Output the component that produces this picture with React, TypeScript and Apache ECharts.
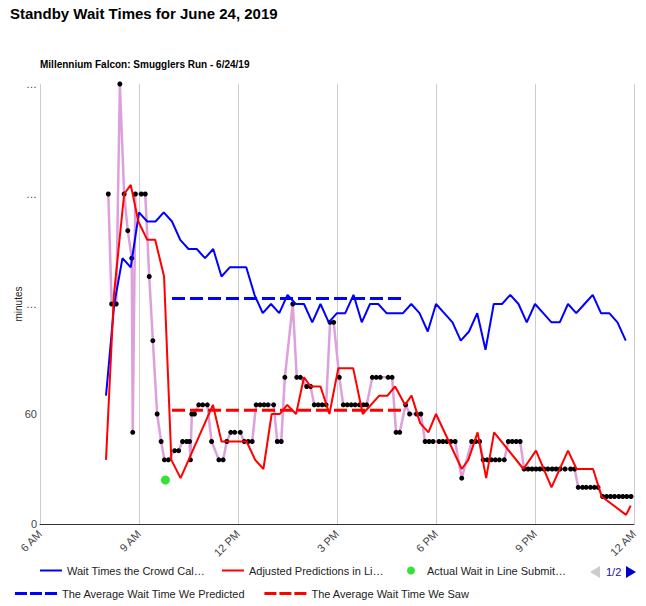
import React, { useEffect, useRef } from "react";
import * as echarts from "echarts";

// ---- Data (hours of day, minutes) ----
const xTickHours = [6, 9, 12, 15, 18, 21, 24];
const xTickLabels = ["6 AM", "9 AM", "12 PM", "3 PM", "6 PM", "9 PM", "12 AM"];

const seriesNames = [
  "Wait Times the Crowd Cal…",
  "Adjusted Predictions in Li…",
  "Actual Wait in Line Submit…",
  "Posted Wait Times",
  "The Average Wait Time We Predicted",
  "The Average Wait Time We Saw",
];
const legendPageText = "1/2";

// Crowd calendar predictions every 15 min from 8:00 to 23:45
const crowdStart = 8;
const crowdStep = 0.25;
const crowdValues = [
  70, 120, 145, 140, 170, 165, 165, 170, 165, 155, 150, 150, 145, 150, 135, 140,
  140, 140, 125, 115, 120, 115, 125, 120, 120, 110, 120, 110, 115, 115, 125, 110,
  120, 120, 115, 115, 115, 120, 115, 105, 120, 115, 110, 100, 105, 115, 95, 120,
  120, 125, 120, 110, 120, 115, 110, 110, 120, 115, 120, 125, 115, 115, 110, 100,
];

// Adjusted predictions
const adjustedTimes = [
  8.0, 8.24, 8.55, 8.75, 8.98, 9.25, 9.49, 9.76, 9.98, 10.26, 11.24, 11.5, 12.26,
  12.52, 12.77, 13.02, 13.27, 13.49, 13.76, 14.0, 14.2, 14.5, 14.77, 15.04, 15.49,
  15.78, 16.28, 16.53, 16.76, 17.06, 17.26, 17.52, 17.77, 18.0, 18.78, 18.98, 19.26,
  19.52, 19.76, 20.65, 21.03, 21.5, 22.0, 22.26, 22.76, 23.02, 23.76, 23.9,
];
const adjustedValues = [
  35, 125, 180, 185, 165, 155, 155, 135, 35, 25, 65, 45, 45,
  35, 30, 60, 60, 65, 60, 80, 75, 75, 60, 85, 85,
  60, 70, 70, 75, 65, 70, 55, 50, 60, 30, 35, 50,
  25, 50, 30, 40, 20, 40, 30, 30, 15, 5, 10,
];

// Actual submitted wait
const actualTimes = [9.8];
const actualValues = [24];

// Posted wait times (dots)
const postedTimes = [
  8.07, 8.17, 8.31, 8.42, 8.55, 8.66, 8.78, 8.81, 8.89, 9.07, 9.19, 9.31, 9.42, 9.55,
  9.67, 9.77, 9.89, 10.08, 10.2, 10.32, 10.44, 10.53, 10.56, 10.6, 10.68, 10.81, 10.93,
  11.07, 11.2, 11.42, 11.55, 11.66, 11.78, 11.9, 12.07, 12.19, 12.31, 12.43, 12.55,
  12.67, 12.79, 12.91, 13.08, 13.19, 13.31, 13.42, 13.66, 13.78, 13.89, 14.08, 14.2,
  14.31, 14.43, 14.55, 14.67, 14.79, 14.9, 15.07, 15.19, 15.31, 15.43, 15.55, 15.68,
  15.8, 15.9, 16.07, 16.19, 16.31, 16.55, 16.67, 16.79, 16.9, 17.08, 17.2, 17.41,
  17.54, 17.67, 17.79, 17.91, 18.09, 18.21, 18.33, 18.45, 18.58, 18.78, 19.08, 19.2,
  19.32, 19.43, 19.55, 19.68, 19.8, 19.92, 20.07, 20.19, 20.31, 20.43, 20.55, 20.67,
  20.79, 20.91, 21.03, 21.15, 21.27, 21.39, 21.52, 21.64, 21.76, 21.91, 22.08, 22.2,
  22.31, 22.44, 22.55, 22.68, 22.8, 22.91, 23.05, 23.17, 23.29, 23.41, 23.54, 23.66,
  23.78, 23.91,
];
const postedValues = [
  180, 120, 120, 240, 180, 160, 145, 50, 180, 180, 180, 135, 100, 60,
  45, 35, 35, 40, 40, 45, 45, 45, 35, 60, 60, 65, 65,
  65, 45, 35, 35, 45, 50, 50, 50, 45, 45, 45, 65,
  65, 65, 65, 65, 45, 45, 80, 120, 80, 80, 75, 75,
  65, 65, 65, 65, 110, 110, 80, 65, 65, 65, 65, 65,
  65, 65, 80, 80, 80, 80, 80, 50, 50, 65, 60, 60,
  60, 45, 45, 45, 45, 45, 45, 45, 45, 25, 45, 45,
  45, 35, 35, 35, 35, 35, 35, 45, 45, 45, 45, 30,
  30, 30, 30, 30, 30, 30, 30, 30, 30, 30, 30, 30,
  20, 20, 20, 20, 20, 20, 15, 15, 15, 15, 15, 15,
  15, 15,
];

// Averages
const averageRange = [10, 17];
const averagePredicted = 123;
const averageSaw = 62;

const FONT = "Arial, 'Liberation Sans', sans-serif";
const SOLID_ICON = "path://M0,0h22v2h-22z";
const DASH_ICON = "path://M0,0h12v3h-12zM15,0h12v3h-12zM30,0h12v3h-12z";
const LEGEND_TEXT = { fontSize: 11, color: "#222", fontFamily: FONT };

export default function App() {
  const ref = useRef<HTMLDivElement>(null);

  useEffect(() => {
    if (!ref.current) return;
    const chart = echarts.init(ref.current, null, { renderer: "svg" });

    const crowdData = crowdValues.map((v, i) => [crowdStart + i * crowdStep, v]);
    const adjustedData = adjustedTimes.map((t, i) => [t, adjustedValues[i]]);
    const actualData = actualTimes.map((t, i) => [t, actualValues[i]]);
    const postedData = postedTimes.map((t, i) => [t, postedValues[i]]);
    const avgPredData = averageRange.map((t) => [t, averagePredicted]);
    const avgSawData = averageRange.map((t) => [t, averageSaw]);

    chart.setOption({
      animation: false,
      textStyle: { fontFamily: FONT },
      title: [
        {
          text: "Standby Wait Times for June 24, 2019",
          left: 10,
          top: 6,
          padding: 0,
          textStyle: { fontSize: 15, fontWeight: "bold", color: "#000", fontFamily: FONT },
        },
        {
          text: "Millennium Falcon: Smugglers Run - 6/24/19",
          left: 40,
          top: 59,
          padding: 0,
          textStyle: { fontSize: 10, fontWeight: "bold", color: "#000", fontFamily: FONT },
        },
      ],
      legend: [
        {
          type: "plain",
          orient: "horizontal",
          left: 40,
          top: 565,
          padding: 0,
          itemWidth: 22,
          itemHeight: 8,
          itemGap: 17,
          data: [
            { name: seriesNames[0], icon: SOLID_ICON },
            { name: seriesNames[1], icon: SOLID_ICON },
          ],
          textStyle: LEGEND_TEXT,
        },
        {
          type: "plain",
          orient: "horizontal",
          left: 407,
          top: 565,
          padding: 0,
          itemWidth: 22,
          itemHeight: 8,
          data: [{ name: seriesNames[2], icon: "circle" }],
          textStyle: LEGEND_TEXT,
        },
        {
          type: "plain",
          orient: "horizontal",
          left: 15,
          top: 588,
          padding: 0,
          itemWidth: 42,
          itemHeight: 8,
          itemGap: 19,
          data: [
            { name: seriesNames[4], icon: DASH_ICON },
            { name: seriesNames[5], icon: DASH_ICON },
          ],
          textStyle: LEGEND_TEXT,
        },
      ],
      graphic: [
        {
          type: "polygon",
          shape: { points: [[590, 572], [600, 566], [600, 578]] },
          style: { fill: "#cccccc" },
        },
        {
          type: "text",
          x: 606,
          y: 572,
          style: {
            text: legendPageText,
            fontSize: 11,
            fill: "#1a0dab",
            fontFamily: FONT,
            verticalAlign: "middle",
          },
        },
        {
          type: "polygon",
          shape: { points: [[636, 572], [626, 566], [626, 578]] },
          style: { fill: "#0000cc" },
        },
      ],
      grid: { left: 40, right: 12, top: 84, bottom: 82, containLabel: false },
      xAxis: {
        type: "value",
        min: 6,
        max: 24,
        interval: 3,
        axisLine: { show: true, lineStyle: { color: "#333", width: 1 } },
        axisTick: { show: false },
        splitLine: { show: true, lineStyle: { color: "#cccccc", width: 1 } },
        axisLabel: {
          rotate: 45,
          margin: 8,
          fontSize: 11,
          color: "#444",
          fontFamily: FONT,
          formatter: (v: number) => {
            const i = xTickHours.indexOf(v);
            return i >= 0 ? xTickLabels[i] : "";
          },
        },
      },
      yAxis: {
        type: "value",
        min: 0,
        max: 240,
        interval: 60,
        name: "minutes",
        nameLocation: "middle",
        nameRotate: 90,
        nameGap: 17,
        nameMoveOverlap: false,
        nameTextStyle: { fontSize: 10, color: "#222", fontFamily: FONT },
        axisLine: { show: false },
        axisTick: { show: false },
        splitLine: { show: false },
        axisLabel: {
          fontSize: 11,
          color: "#444",
          margin: 3,
          fontFamily: FONT,
          formatter: (v: number) => (v < 100 ? String(v) : "…"),
        },
      },
      series: [
        {
          name: seriesNames[3],
          type: "line",
          data: postedData,
          symbol: "circle",
          symbolSize: 5,
          showSymbol: true,
          itemStyle: { color: "#000" },
          lineStyle: { color: "#dda0dd", width: 2.5 },
          z: 2,
        },
        {
          name: seriesNames[0],
          type: "line",
          data: crowdData,
          symbol: "none",
          itemStyle: { color: "#0000ff" },
          lineStyle: { color: "#0000ff", width: 2 },
          z: 3,
        },
        {
          name: seriesNames[1],
          type: "line",
          data: adjustedData,
          symbol: "none",
          itemStyle: { color: "#ff0000" },
          lineStyle: { color: "#ff0000", width: 2 },
          z: 3,
        },
        {
          name: seriesNames[4],
          type: "line",
          data: avgPredData,
          symbol: "none",
          itemStyle: { color: "#0000ff" },
          lineStyle: { color: "#0000ff", width: 3, type: [13, 5] },
          z: 4,
        },
        {
          name: seriesNames[5],
          type: "line",
          data: avgSawData,
          symbol: "none",
          itemStyle: { color: "#ff0000" },
          lineStyle: { color: "#ff0000", width: 3, type: [13, 5] },
          z: 4,
        },
        {
          name: seriesNames[2],
          type: "scatter",
          data: actualData,
          symbol: "circle",
          symbolSize: 9,
          itemStyle: { color: "#00dd00" },
          z: 5,
        },
      ],
    });

    return () => chart.dispose();
  }, []);

  return (
    <div
      ref={ref}
      style={{ position: "absolute", left: 0, top: 0, width: 646, height: 606 }}
    />
  );
}
